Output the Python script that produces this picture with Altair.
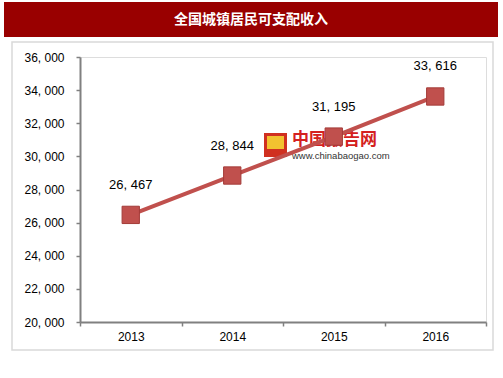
import altair as alt
import pandas as pd

years = ["2013", "2014", "2015", "2016"]
income = [26467, 28844, 31195, 33616]
labels = ["26, 467", "28, 844", "31, 195", "33, 616"]
title_text = "全国城镇居民可支配收入"

df = pd.DataFrame({"year": years, "income": income, "label": labels})

RED = "#C0504D"
W, H = 406, 265

x = alt.X("year:N", title=None,
          scale=alt.Scale(paddingInner=0, paddingOuter=0),
          axis=alt.Axis(labelAngle=0, domainColor="#808080", domainWidth=2,
                        tickColor="#808080", tickSize=4, tickWidth=1.5,
                        tickBand="extent", labelPadding=5, labelFontSize=12,
                        labelColor="#000000", labelFont="Liberation Sans", zindex=1))
y = alt.Y("income:Q", title=None,
          scale=alt.Scale(domain=[20000, 36000], nice=False, zero=False),
          axis=alt.Axis(values=list(range(20000, 36001, 2000)),
                        labelExpr="replace(format(datum.value, ','), ',', ', ')",
                        grid=False, domainColor="#808080", domainWidth=2,
                        tickColor="#808080", tickSize=4, tickWidth=1.5,
                        labelPadding=12, labelFontSize=12, labelColor="#000000",
                        labelFont="Liberation Sans", zindex=1))

one = alt.Data(values=[{"a": 1}])

title_bar = alt.Chart(one).mark_rect(color="#990000").encode(
    x=alt.value(-76), x2=alt.value(418), y=alt.value(-55), y2=alt.value(-20))
title = alt.Chart(one).mark_text(
    text=title_text, color="white", fontSize=14, fontWeight="bold",
    font="Noto Sans CJK SC", baseline="middle", align="center").encode(
    x=alt.value(171), y=alt.value(-37))
box = alt.Chart(one).mark_rect(fillOpacity=0, stroke="#D9D9D9", strokeWidth=1.5).encode(
    x=alt.value(-68), x2=alt.value(413), y=alt.value(-15), y2=alt.value(293))

wm1 = alt.Chart(one).mark_text(
    text="中国报告网", color="#D42020", fontSize=17, fontWeight="bold",
    font="Noto Sans CJK SC", align="left", baseline="middle").encode(
    x=alt.value(212), y=alt.value(83))
wm2 = alt.Chart(one).mark_text(
    text="www.chinabaogao.com", color="#333333", fontSize=9.5,
    font="Liberation Sans", align="left", baseline="middle").encode(
    x=alt.value(212), y=alt.value(99))
wm_logo = alt.Chart(one).mark_rect(color="#D03020").encode(
    x=alt.value(184), x2=alt.value(207), y=alt.value(76), y2=alt.value(100))
wm_logo2 = alt.Chart(one).mark_rect(color="#F2C230").encode(
    x=alt.value(187), x2=alt.value(204), y=alt.value(79), y2=alt.value(92))

base = alt.Chart(df).encode(x=x, y=y)
line = base.mark_line(color=RED, strokeWidth=4)
pts = base.mark_point(shape="square", filled=True, size=300, color=RED,
                      stroke="#A33B38", strokeWidth=1, opacity=1)
txt = base.mark_text(dy=-30, fontSize=13, font="Liberation Sans", color="#000000").encode(
    text="label:N")

chart = alt.layer(title_bar, title, box, wm_logo, wm_logo2, wm1, wm2, line, pts, txt).properties(
    width=W, height=H,
    autosize=alt.AutoSizeParams(type="none"),
    padding={"left": 80, "top": 57, "right": 17, "bottom": 56},
).configure_view(stroke=None).configure(background="white")

chart.save("out.html", embed_options={"renderer": "svg", "actions": False})
